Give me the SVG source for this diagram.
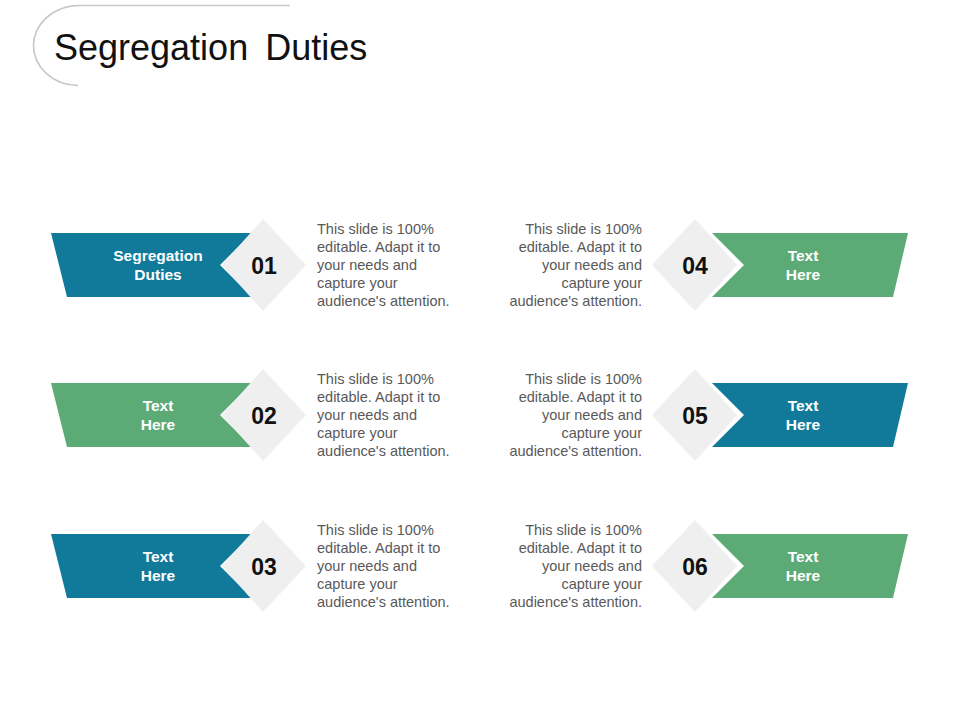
<svg xmlns="http://www.w3.org/2000/svg" width="960" height="720" viewBox="0 0 960 720">
<defs>
<style>
.blue{fill:#117a9b}
.green{fill:#5caa76}
.dia{fill:#efefef}
.bt{font-family:"Liberation Sans",Arial,sans-serif;font-weight:bold;font-size:15.5px;fill:#ffffff;text-anchor:middle}
.num{font-family:"Liberation Sans",Arial,sans-serif;font-weight:bold;font-size:23px;fill:#111111;text-anchor:middle}
.para{font-family:"Liberation Sans",Arial,sans-serif;font-size:14.5px;fill:#595959}
.pr{text-anchor:end}
.title{font-family:"Liberation Sans",Arial,sans-serif;font-size:36px;fill:#111111;word-spacing:7px}
</style>
</defs>
<rect width="960" height="720" fill="#ffffff"/>
<g id="title">
<path d="M290,5.5 H80 C52,5.5 33.5,25 33.5,45.5 C33.5,66 52,85.5 78,85.5" fill="none" stroke="#c6c6c6" stroke-width="1.6"/>
<text class="title" x="54" y="60">Segregation Duties</text>
</g>
<g id="connectors"></g>

<g id="node-01">
<polygon class="blue" points="51,233 252,233 220,265 252,297 67,297"/>
<polygon class="dia" points="263,219 306,265 263,311 222,265"/>
<text class="bt" x="158" y="261">Segregation</text>
<text class="bt" x="158" y="280">Duties</text>
<text class="num" x="264" y="274">01</text>
<text class="para" x="317"><tspan x="317" y="234">This slide is 100%</tspan><tspan x="317" y="252">editable. Adapt it to</tspan><tspan x="317" y="270">your needs and</tspan><tspan x="317" y="288">capture your</tspan><tspan x="317" y="306">audience's attention.</tspan></text>
</g>

<g id="node-02" transform="translate(0,150)">
<polygon class="green" points="51,233 252,233 220,265 252,297 67,297"/>
<polygon class="dia" points="263,219 306,265 263,311 222,265"/>
<text class="bt" x="158" y="261">Text</text>
<text class="bt" x="158" y="280">Here</text>
<text class="num" x="264" y="274">02</text>
<text class="para" x="317"><tspan x="317" y="234">This slide is 100%</tspan><tspan x="317" y="252">editable. Adapt it to</tspan><tspan x="317" y="270">your needs and</tspan><tspan x="317" y="288">capture your</tspan><tspan x="317" y="306">audience's attention.</tspan></text>
</g>

<g id="node-03" transform="translate(0,301)">
<polygon class="blue" points="51,233 252,233 220,265 252,297 67,297"/>
<polygon class="dia" points="263,219 306,265 263,311 222,265"/>
<text class="bt" x="158" y="261">Text</text>
<text class="bt" x="158" y="280">Here</text>
<text class="num" x="264" y="274">03</text>
<text class="para" x="317"><tspan x="317" y="234">This slide is 100%</tspan><tspan x="317" y="252">editable. Adapt it to</tspan><tspan x="317" y="270">your needs and</tspan><tspan x="317" y="288">capture your</tspan><tspan x="317" y="306">audience's attention.</tspan></text>
</g>

<g id="node-04">
<polygon class="green" points="712,233 908,233 893,297 712,297 744,265"/>
<polygon class="dia" points="695,219 737,265 695,311 652,265"/>
<text class="bt" x="803" y="261">Text</text>
<text class="bt" x="803" y="280">Here</text>
<text class="num" x="695" y="274">04</text>
<text class="para pr"><tspan x="642" y="234">This slide is 100%</tspan><tspan x="642" y="252">editable. Adapt it to</tspan><tspan x="642" y="270">your needs and</tspan><tspan x="642" y="288">capture your</tspan><tspan x="642" y="306">audience's attention.</tspan></text>
</g>

<g id="node-05" transform="translate(0,150)">
<polygon class="blue" points="712,233 908,233 893,297 712,297 744,265"/>
<polygon class="dia" points="695,219 737,265 695,311 652,265"/>
<text class="bt" x="803" y="261">Text</text>
<text class="bt" x="803" y="280">Here</text>
<text class="num" x="695" y="274">05</text>
<text class="para pr"><tspan x="642" y="234">This slide is 100%</tspan><tspan x="642" y="252">editable. Adapt it to</tspan><tspan x="642" y="270">your needs and</tspan><tspan x="642" y="288">capture your</tspan><tspan x="642" y="306">audience's attention.</tspan></text>
</g>

<g id="node-06" transform="translate(0,301)">
<polygon class="green" points="712,233 908,233 893,297 712,297 744,265"/>
<polygon class="dia" points="695,219 737,265 695,311 652,265"/>
<text class="bt" x="803" y="261">Text</text>
<text class="bt" x="803" y="280">Here</text>
<text class="num" x="695" y="274">06</text>
<text class="para pr"><tspan x="642" y="234">This slide is 100%</tspan><tspan x="642" y="252">editable. Adapt it to</tspan><tspan x="642" y="270">your needs and</tspan><tspan x="642" y="288">capture your</tspan><tspan x="642" y="306">audience's attention.</tspan></text>
</g>
</svg>
